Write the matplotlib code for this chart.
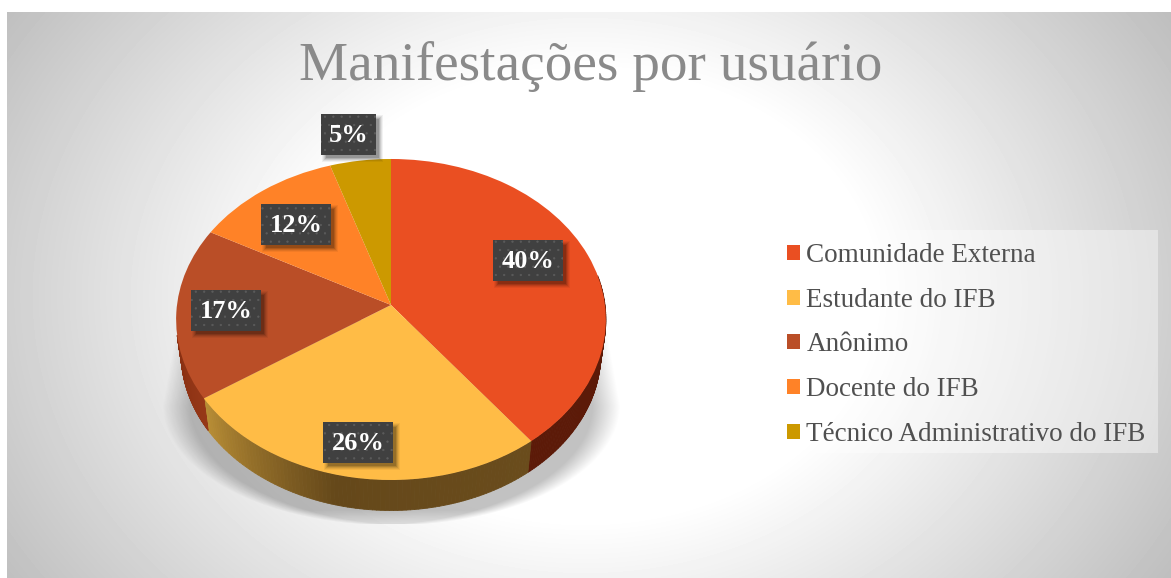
import numpy as np
import matplotlib
matplotlib.use("Agg")
import matplotlib.pyplot as plt
from matplotlib.patches import Rectangle
from matplotlib.transforms import Transform
from matplotlib.collections import PolyCollection

categories = ["Comunidade Externa", "Estudante do IFB", "Anônimo", "Docente do IFB",
              "Técnico Administrativo do IFB"]
values = [39.6, 26.0, 17.3, 12.1, 5.0]
colors = ["#EA4F22", "#FFBC46", "#BA4E27", "#FF8227", "#CC9900"]
title = "Manifestações por usuário"
SERIF = ["Liberation Serif"]

W, H = 1171, 578
K = 0.0903
plt.rcParams["hatch.linewidth"] = 0.4


class Perspective(Transform):
    """Tilts a unit-circle pie into the chart's 3D perspective (pixel coords)."""
    input_dims = output_dims = 2
    is_separable = False
    has_inverse = False

    def __init__(self, cx, cy, bx, ay):
        super().__init__()
        self.p = (cx, cy, bx, ay)

    def transform_non_affine(self, v):
        v = np.asarray(v, float)
        cx, cy, bx, ay = self.p
        d = 1 + K * v[:, 1]
        return np.column_stack([cx + bx * v[:, 0] / d, cy - ay * v[:, 1] / d])


top = Perspective(391, 305, 214, 159.2)
low = Perspective(391, 339, 209, 156)

fig = plt.figure(figsize=(W / 100, H / 100), dpi=100, facecolor="white")
ax = fig.add_axes([0, 0, 1, 1])

wedges, _ = ax.pie(values, colors=colors, startangle=90, counterclock=False, radius=1,
                   wedgeprops=dict(linewidth=0))
ax.set_aspect("auto")
ax.set_xlim(0, W)
ax.set_ylim(H, 0)
ax.axis("off")
for w in wedges:
    w.set_transform(top + ax.transData)
    w.set_zorder(5)

# background
yy, xx = np.mgrid[0:H, 0:W]
r = np.hypot((xx - 585) / 578, (yy - 295) / 450)
bg = 1 - 0.368 * np.clip(r - 0.5, 0, None)
bg[(xx < 7) | (yy < 12)] = 1
ax.imshow(bg, cmap="gray", vmin=0, vmax=1, extent=(0, W, H, 0), aspect="auto", zorder=0,
          interpolation="bilinear")

# soft shadow below pie
hw = 214 + (yy - 320) * 15 / 85
hw = np.where(yy > 405, 229 * np.sqrt(np.clip(1 - ((yy - 405) / 120) ** 2, 0, 1)), hw)
dx = hw - np.abs(xx - 391)
alpha = 0.24 * np.clip(dx / 28, 0, 1) * np.clip((534 - yy) / 24, 0, 1)
alpha[(yy > 523) | (yy < 320)] = 0
rgba = np.zeros((H, W, 4))
rgba[..., 3] = alpha
ax.imshow(rgba, extent=(0, W, H, 0), aspect="auto", zorder=1)

# side wall: strips between the top rim and the lower rim (visible part only)
fracs = np.cumsum([0] + values) / sum(values)
side_stops = {
    0: [(0, "#5C1A08"), (1, "#5C1A08")],
    1: [(0, "#6A4C1C"), (0.55, "#65481A"), (1, "#B88D35")],
    2: [(0, "#963818"), (1, "#8A3012")],
}
for i, stops in side_stops.items():
    a = np.linspace(max(fracs[i], 0.22), min(fracs[i + 1], 0.72), 90)
    th = np.pi / 2 - 2 * np.pi * a
    unit = np.column_stack([np.cos(th), np.sin(th)])
    p0, p1 = top.transform(unit), low.transform(unit)
    polys = [np.array([p0[j], p0[j + 1], p1[j + 1], p1[j]]) for j in range(len(a) - 1)]
    s = np.linspace(0, 1, len(polys))
    pos, cols = zip(*stops)
    rgb = np.array([matplotlib.colors.to_rgb(c) for c in cols])
    fc = np.column_stack([np.interp(s, pos, rgb[:, k]) for k in range(3)])
    ax.add_collection(PolyCollection(polys, facecolors=fc, edgecolors=fc, linewidths=0.6, zorder=3))

# data labels
label_boxes = [(493, 240), (323, 422), (191, 290), (261, 204), (321, 114)]
for v, (x0, y0) in zip(values, label_boxes):
    w = 55 if v < 10 else 70
    for grow, al in [(3, 0.05), (2, 0.07), (1, 0.09), (0, 0.13), (-1, 0.15)]:
        ax.add_patch(Rectangle((x0 + 4 - grow, y0 + 4 - grow), w + 2 * grow, 41 + 2 * grow,
                               facecolor="black", alpha=al, linewidth=0, zorder=6.5))
    ax.add_patch(Rectangle((x0, y0), w, 41, facecolor="#404040", edgecolor="#5c5c5c", hatch="..",
                           linewidth=0, zorder=7))
    ax.text(x0 + w / 2, y0 + 21, f"{v:.0f}%", color="white", family=SERIF, weight="bold",
            fontsize=19, ha="center", va="center", zorder=8)

ax.text(591, 80, title, color="#8A8A8A", family=SERIF, fontsize=39.8, ha="center", va="baseline", zorder=8)

# legend with its own backing panel
ax.add_patch(Rectangle((775, 230), 383, 223, facecolor="white", alpha=0.4, linewidth=0, zorder=5.5))
leg = ax.legend(wedges, categories, loc="upper left",
                bbox_to_anchor=(775 / W, 1 - 231 / H), bbox_transform=fig.transFigure,
                prop=dict(family=SERIF, size=19.5), labelcolor="#505050",
                frameon=False,
                handlelength=0.47, handleheight=0.47, handletextpad=0.25,
                labelspacing=0.73, borderaxespad=0, borderpad=0.44)
leg.set_zorder(6)

fig.savefig("out.png", dpi=100)
